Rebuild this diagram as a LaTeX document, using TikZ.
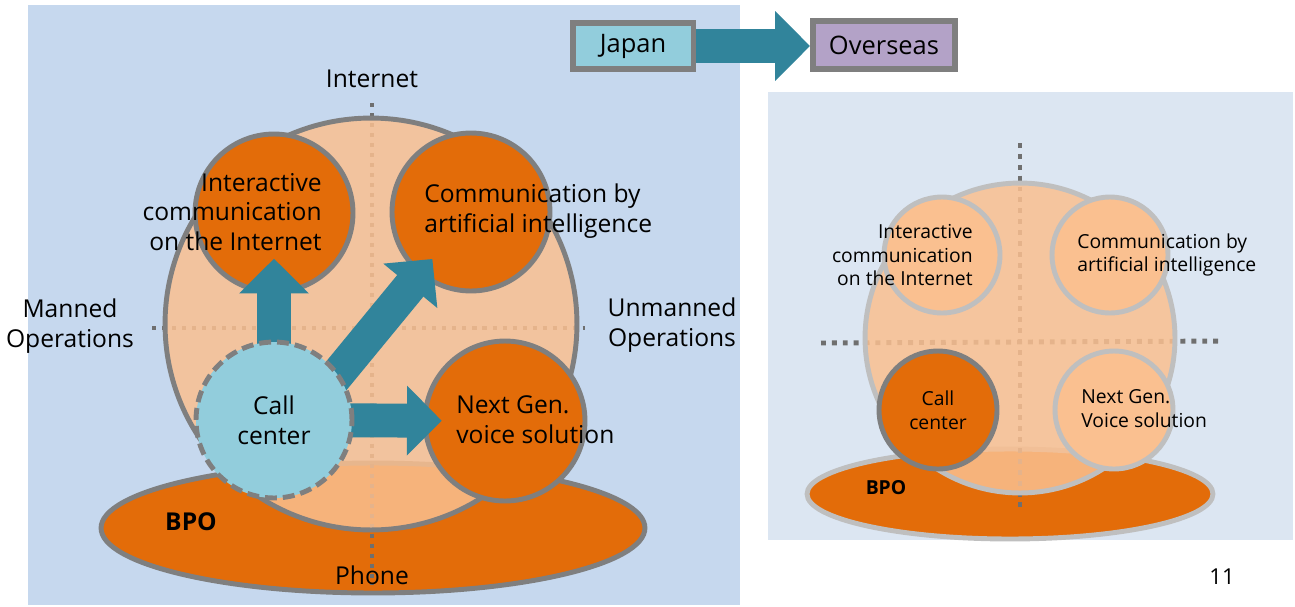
\documentclass[tikz,border=0pt]{standalone}
\usepackage{fontspec}
\setmainfont{Open Sans}
\usetikzlibrary{shapes.geometric,arrows.meta}
\definecolor{leftbg}{HTML}{C6D8EE}
\definecolor{rightbg}{HTML}{DCE6F2}
\definecolor{peach}{HTML}{FAC090}
\definecolor{darkorange}{HTML}{E36C09}
\definecolor{rim}{HTML}{7F7F7F}
\definecolor{lightrim}{HTML}{BFBFBF}
\definecolor{arrowteal}{HTML}{31849B}
\definecolor{skyblue}{HTML}{92CDDC}
\definecolor{lilac}{HTML}{B3A2C7}
\definecolor{dotgray}{HTML}{6F6F6F}
\begin{document}
\begin{tikzpicture}[x=0.02cm, y=-0.02cm,
    txt/.style={font=\fontsize{14}{17}\selectfont, inner sep=0pt},
    smalltxt/.style={font=\fontsize{11}{13.6}\selectfont, inner sep=0pt},
    ring/.style={circle, draw=rim, line width=2.8pt, fill=darkorange},
    softring/.style={circle, draw=lightrim, line width=2.8pt, fill=peach},
    dots/.style={dotgray, line width=2.3pt, dash pattern=on 2.3pt off 3.4pt},
    bigdots/.style={dotgray, line width=2.8pt, dash pattern=on 2.8pt off 3.4pt},
    bigarrow/.style={arrowteal, line width=19.3pt, -{Triangle[length=19.8pt, width=38.6pt]}},
    box/.style={draw=rim, line width=3.4pt, minimum width=2.42cm, minimum height=0.92cm, font=\fontsize{14.5}{17}\selectfont}]
\useasboundingbox (0,0) rectangle (1295,606);
% left: Japan
\fill[leftbg] (28,5) rectangle (740,605);
\node[ellipse, draw=rim, line width=2.8pt, fill=darkorange, minimum width=10.88cm, minimum height=2.6cm] (bpo) at (373,528) {};
\draw[dots] (372,103) -- (372,585);
\draw[dots] (152,328) -- (585,328);
\node[circle, draw=rim, line width=2.8pt, fill=peach, fill opacity=.85, minimum size=8.24cm] (field) at (371,324) {};
\node[ring, minimum size=3.16cm] (inter) at (274,213) {};
\node[ring, minimum size=3.16cm] (ai) at (471,212) {};
\node[ring, minimum size=3.2cm] (nextgen) at (505,421) {};
\coordinate (callpos) at (274,420);
\draw[bigarrow, shorten >=26pt] (callpos) -- (inter.center);
\draw[bigarrow, shorten >=34.6pt] ([xshift=.52cm]callpos) -- (ai.center);
\draw[bigarrow, shorten >=36pt] (callpos) -- (nextgen.center);
\node[circle, draw=rim, line width=2.8pt, dash pattern=on 6.8pt off 3.4pt, fill=skyblue, minimum size=3.12cm, txt, align=center] (call) at (callpos) {Call\\center};
\node[txt, anchor=east, align=right] (interlbl) at (322,212) {Interactive\\communication\\on the Internet};
\node[txt, anchor=west, align=left] (ailbl) at (424,211) {Communication by\\artificial intelligence};
\node[txt, anchor=west, align=left] (nextlbl) at (456,420) {Next Gen.\\voice solution};
\node[txt] (internet) at (372,79) {Internet};
\node[txt, align=center] (manned) at (70,326) {Manned\\Operations};
\node[txt, align=center] (unmanned) at (672,325) {Unmanned\\Operations};
\node[txt] (phone) at (372,575) {Phone};
\node[txt, font=\fontsize{14}{17}\selectfont\bfseries] (bpolbl) at (191,522) {BPO};
% Japan -> Overseas
\node[box, fill=skyblue] (japan) at (633,46) {Japan};
\node[box, fill=lilac, minimum width=2.84cm, minimum height=0.96cm] (overseas) at (884,45) {Overseas};
\draw[bigarrow] (japan.east) -- (japan.east -| overseas.west);
% right: Overseas
\fill[rightbg] (768,92) rectangle (1293,540);
\node[ellipse, draw=lightrim, line width=2.8pt, fill=darkorange, minimum width=8.12cm, minimum height=1.8cm] (bpo2) at (1010,494) {};
\draw[bigdots] (1020,143) -- (1020,512);
\draw[bigdots] (821,343) -- (1224,341);
\node[circle, draw=lightrim, line width=2.8pt, fill=peach, fill opacity=.85, minimum size=6.2cm] (field2) at (1020,338) {};
\node[softring, minimum size=2.32cm] (inter2) at (942,255) {};
\node[softring, minimum size=2.32cm] (ai2) at (1110,255) {};
\node[softring, minimum size=2.36cm] (nextgen2) at (1114,410) {};
\node[ring, minimum size=2.36cm, smalltxt, align=center] (call2) at (938,410) {Call\\center};
\node[smalltxt, anchor=east, align=right] (interlbl2) at (973,255) {Interactive\\communication\\on the Internet};
\node[smalltxt, anchor=west, align=left] (ailbl2) at (1077,255) {Communication by\\artificial intelligence};
\node[smalltxt, anchor=west, align=left] (nextlbl2) at (1081,409) {Next Gen.\\Voice solution};
\node[smalltxt, font=\fontsize{11}{13.6}\selectfont\bfseries] (bpolbl2) at (886,488) {BPO};
\node[txt, font=\fontsize{12.5}{15}\selectfont] (pagenum) at (1222,577) {11};
\end{tikzpicture}
\end{document}
